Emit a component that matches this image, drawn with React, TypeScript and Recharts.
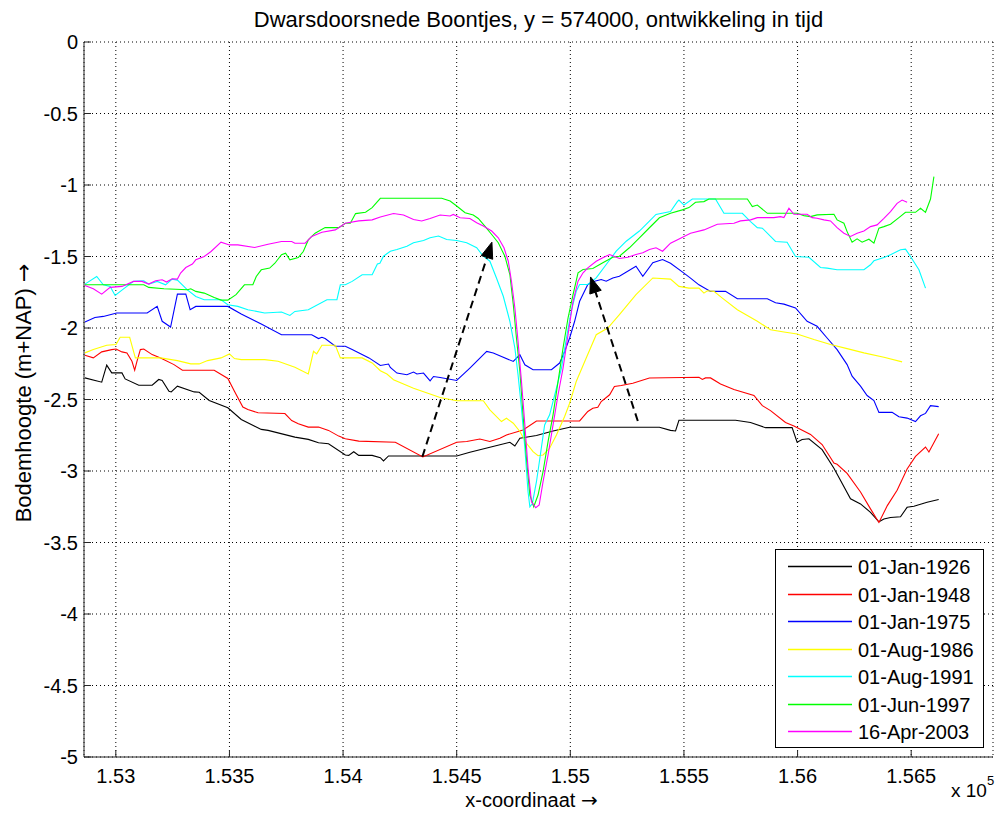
import React from 'react';
import { LineChart, Line, XAxis, YAxis, CartesianGrid, ReferenceLine } from 'recharts';

const FONT = '"Liberation Sans", Arial, Helvetica, sans-serif';
const ARROW_FONT = '"DejaVu Sans", sans-serif';

const X_DOMAIN = [152860, 156860];
const X_TICKS = [153000, 153500, 154000, 154500, 155000, 155500, 156000, 156500];
const Y_DOMAIN = [-5, 0];
const Y_TICKS = [-5, -4.5, -4, -3.5, -3, -2.5, -2, -1.5, -1, -0.5, 0];

const SERIES_NAMES = ['01-Jan-1926', '01-Jan-1948', '01-Jan-1975', '01-Aug-1986', '01-Aug-1991', '01-Jun-1997', '16-Apr-2003'];
const SERIES_COLORS = ['#000000', '#ff0000', '#0000ff', '#ffff00', '#00ffff', '#00ff00', '#ff00ff'];

const JAN1926 = [[152864,-2.349],[152938,-2.379],[152960,-2.26],[152982,-2.314],[153027,-2.314],[153041,-2.356],[153101,-2.4],[153160,-2.4],[153189,-2.36],[153204,-2.367],[153234,-2.442],[153244,-2.447],[153271,-2.407],[153345,-2.447],[153367,-2.449],[153411,-2.507],[153493,-2.558],[153552,-2.64],[153640,-2.709],[153670,-2.716],[153788,-2.763],[153847,-2.779],[153892,-2.802],[153936,-2.809],[154010,-2.888],[154025,-2.891],[154047,-2.865],[154069,-2.891],[154128,-2.891],[154164,-2.907],[154178,-2.93],[154200,-2.895],[154500,-2.895],[154558,-2.869],[154646,-2.834],[154734,-2.799],[154756,-2.825],[154778,-2.771],[154851,-2.752],[154924,-2.72],[154997,-2.694],[155392,-2.694],[155441,-2.716],[155463,-2.72],[155478,-2.645],[155727,-2.645],[155793,-2.661],[155859,-2.697],[155976,-2.697],[155998,-2.799],[156020,-2.78],[156050,-2.775],[156108,-2.851],[156160,-2.981],[156233,-3.194],[156277,-3.23],[156321,-3.289],[156358,-3.355],[156380,-3.336],[156409,-3.325],[156453,-3.32],[156482,-3.254],[156512,-3.246],[156570,-3.218],[156621,-3.199]];

const JAN1948 = [[152864,-2.191],[152901,-2.209],[152938,-2.167],[152982,-2.151],[153001,-2.147],[153027,-2.167],[153049,-2.174],[153071,-2.233],[153083,-2.295],[153093,-2.233],[153108,-2.151],[153123,-2.147],[153160,-2.186],[153197,-2.209],[153256,-2.256],[153293,-2.295],[153433,-2.295],[153493,-2.353],[153522,-2.442],[153559,-2.553],[153581,-2.57],[153626,-2.593],[153744,-2.598],[153774,-2.647],[153803,-2.67],[153847,-2.693],[153892,-2.693],[153936,-2.716],[153981,-2.756],[154010,-2.774],[154069,-2.791],[154230,-2.799],[154351,-2.902],[154500,-2.799],[154544,-2.794],[154602,-2.776],[154646,-2.794],[154690,-2.771],[154719,-2.748],[154792,-2.713],[154851,-2.65],[155041,-2.65],[155077,-2.584],[155099,-2.561],[155121,-2.554],[155136,-2.514],[155173,-2.467],[155194,-2.409],[155224,-2.402],[155275,-2.386],[155348,-2.35],[155566,-2.344],[155581,-2.36],[155595,-2.349],[155617,-2.349],[155661,-2.392],[155720,-2.43],[155808,-2.472],[155845,-2.543],[155881,-2.578],[155947,-2.661],[155984,-2.685],[156057,-2.744],[156108,-2.815],[156160,-2.945],[156174,-2.953],[156218,-3.017],[156277,-3.147],[156321,-3.265],[156358,-3.36],[156395,-3.242],[156438,-3.135],[156482,-2.986],[156519,-2.898],[156563,-2.832],[156578,-2.867],[156621,-2.739]];

const JAN1975 = [[152864,-1.958],[152908,-1.926],[152945,-1.919],[153004,-1.895],[153138,-1.895],[153182,-1.849],[153204,-1.953],[153241,-1.993],[153271,-1.763],[153308,-1.763],[153327,-1.872],[153352,-1.849],[153493,-1.849],[153552,-1.902],[153640,-1.972],[153729,-2.047],[153862,-2.047],[153892,-2.074],[153907,-2.065],[153921,-2.074],[153966,-2.128],[154010,-2.128],[154040,-2.151],[154114,-2.209],[154164,-2.262],[154200,-2.252],[154208,-2.276],[154237,-2.315],[154281,-2.327],[154310,-2.308],[154325,-2.322],[154354,-2.315],[154383,-2.369],[154398,-2.339],[154427,-2.346],[154500,-2.367],[154558,-2.28],[154632,-2.164],[154661,-2.175],[154749,-2.234],[154778,-2.187],[154800,-2.257],[154836,-2.292],[154917,-2.292],[154953,-2.245],[154975,-2.164],[154997,-2.07],[155019,-1.953],[155041,-1.813],[155077,-1.696],[155107,-1.673],[155136,-1.661],[155158,-1.673],[155187,-1.65],[155216,-1.638],[155289,-1.568],[155319,-1.638],[155363,-1.544],[155406,-1.521],[155441,-1.547],[155500,-1.616],[155529,-1.651],[155566,-1.698],[155617,-1.744],[155683,-1.744],[155735,-1.795],[155867,-1.795],[155903,-1.823],[155940,-1.833],[155991,-1.86],[156042,-1.953],[156086,-1.988],[156130,-2.07],[156174,-2.151],[156218,-2.256],[156240,-2.337],[156277,-2.407],[156306,-2.472],[156336,-2.507],[156358,-2.59],[156416,-2.59],[156446,-2.621],[156482,-2.63],[156519,-2.654],[156541,-2.614],[156563,-2.597],[156585,-2.543],[156621,-2.55]];

const AUG1986 = [[152864,-2.174],[152901,-2.151],[152960,-2.121],[153001,-2.116],[153019,-2.065],[153061,-2.065],[153086,-2.209],[153197,-2.209],[153271,-2.228],[153330,-2.251],[153367,-2.251],[153404,-2.228],[153463,-2.209],[153500,-2.181],[153522,-2.214],[153552,-2.221],[153655,-2.221],[153714,-2.233],[153788,-2.274],[153847,-2.321],[153870,-2.163],[153884,-2.181],[153907,-2.121],[153966,-2.121],[153988,-2.209],[154084,-2.209],[154128,-2.244],[154164,-2.299],[154193,-2.322],[154222,-2.362],[154310,-2.421],[154427,-2.486],[154500,-2.509],[154617,-2.509],[154646,-2.572],[154697,-2.654],[154719,-2.631],[154749,-2.666],[154778,-2.724],[154807,-2.806],[154836,-2.864],[154858,-2.893],[154880,-2.888],[154909,-2.841],[154939,-2.748],[154975,-2.619],[154997,-2.526],[155026,-2.374],[155070,-2.21],[155114,-2.047],[155165,-2.0],[155216,-1.907],[155289,-1.766],[155363,-1.65],[155441,-1.658],[155478,-1.709],[155522,-1.721],[155566,-1.721],[155588,-1.756],[155603,-1.74],[155632,-1.744],[155669,-1.791],[155735,-1.872],[155823,-1.953],[155881,-2.012],[155940,-2.028],[155998,-2.042],[156072,-2.081],[156145,-2.116],[156218,-2.144],[156292,-2.174],[156380,-2.205],[156460,-2.237]];

const AUG1991 = [[152864,-1.693],[152916,-1.64],[152945,-1.698],[152975,-1.709],[152997,-1.772],[153034,-1.726],[153078,-1.674],[153123,-1.67],[153145,-1.693],[153182,-1.674],[153219,-1.698],[153248,-1.658],[153271,-1.665],[153315,-1.733],[153352,-1.779],[153389,-1.802],[153463,-1.802],[153493,-1.837],[153537,-1.849],[153581,-1.872],[153655,-1.895],[153729,-1.888],[153766,-1.912],[153788,-1.884],[153847,-1.872],[153929,-1.802],[153973,-1.802],[153988,-1.698],[154010,-1.698],[154040,-1.674],[154084,-1.628],[154128,-1.628],[154151,-1.553],[154162,-1.548],[154178,-1.498],[154208,-1.463],[154237,-1.451],[154281,-1.428],[154310,-1.404],[154354,-1.388],[154383,-1.369],[154420,-1.357],[154456,-1.381],[154500,-1.388],[154544,-1.404],[154588,-1.439],[154617,-1.498],[154646,-1.533],[154675,-1.65],[154705,-1.778],[154734,-1.953],[154756,-2.14],[154770,-2.327],[154785,-2.561],[154800,-2.841],[154814,-3.145],[154822,-3.25],[154833,-3.227],[154851,-3.075],[154866,-2.911],[154887,-2.678],[154909,-2.607],[154939,-2.421],[154961,-2.28],[154983,-2.07],[155004,-1.883],[155026,-1.743],[155041,-1.696],[155077,-1.696],[155114,-1.65],[155158,-1.556],[155202,-1.463],[155246,-1.393],[155304,-1.322],[155348,-1.252],[155377,-1.206],[155441,-1.186],[155471,-1.116],[155478,-1.105],[155500,-1.14],[155537,-1.098],[155639,-1.098],[155676,-1.198],[155757,-1.198],[155793,-1.256],[155823,-1.298],[155845,-1.302],[155881,-1.36],[155903,-1.395],[155954,-1.4],[155991,-1.5],[156050,-1.505],[156101,-1.577],[156130,-1.581],[156174,-1.593],[156292,-1.593],[156321,-1.558],[156336,-1.53],[156380,-1.507],[156409,-1.488],[156453,-1.453],[156475,-1.449],[156497,-1.5],[156534,-1.593],[156563,-1.721]];

const JUN1997 = [[152864,-1.698],[153123,-1.698],[153145,-1.716],[153212,-1.726],[153315,-1.733],[153330,-1.726],[153352,-1.744],[153389,-1.756],[153433,-1.786],[153463,-1.805],[153493,-1.805],[153529,-1.767],[153566,-1.698],[153603,-1.698],[153618,-1.64],[153640,-1.593],[153677,-1.581],[153700,-1.547],[153729,-1.488],[153747,-1.477],[153766,-1.523],[153803,-1.507],[153825,-1.465],[153847,-1.384],[153877,-1.337],[153921,-1.298],[153981,-1.298],[154010,-1.267],[154032,-1.267],[154055,-1.2],[154099,-1.191],[154128,-1.158],[154164,-1.093],[154434,-1.093],[154471,-1.112],[154500,-1.147],[154537,-1.194],[154573,-1.21],[154595,-1.234],[154624,-1.287],[154654,-1.346],[154683,-1.404],[154712,-1.498],[154734,-1.626],[154749,-1.836],[154763,-2.07],[154778,-2.304],[154792,-2.607],[154807,-2.911],[154822,-3.168],[154839,-3.25],[154858,-3.168],[154880,-3.005],[154902,-2.794],[154924,-2.607],[154946,-2.374],[154968,-2.14],[154990,-1.93],[155012,-1.766],[155034,-1.614],[155056,-1.591],[155099,-1.584],[155143,-1.544],[155187,-1.505],[155216,-1.498],[155260,-1.439],[155304,-1.369],[155348,-1.299],[155392,-1.229],[155441,-1.198],[155493,-1.174],[155522,-1.158],[155551,-1.121],[155588,-1.116],[155610,-1.098],[155779,-1.098],[155801,-1.151],[155823,-1.14],[155867,-1.198],[155998,-1.198],[156028,-1.214],[156057,-1.221],[156086,-1.209],[156160,-1.205],[156174,-1.244],[156204,-1.267],[156218,-1.326],[156240,-1.4],[156262,-1.377],[156284,-1.4],[156314,-1.379],[156336,-1.407],[156358,-1.302],[156380,-1.291],[156409,-1.274],[156446,-1.228],[156475,-1.191],[156519,-1.191],[156541,-1.163],[156563,-1.191],[156585,-1.098],[156600,-0.942]];

const APR2003 = [[152864,-1.702],[152901,-1.726],[152938,-1.763],[152975,-1.716],[153027,-1.709],[153078,-1.674],[153115,-1.674],[153145,-1.693],[153175,-1.67],[153204,-1.663],[153223,-1.679],[153248,-1.656],[153271,-1.658],[153285,-1.616],[153308,-1.577],[153337,-1.553],[153352,-1.523],[153389,-1.5],[153419,-1.465],[153463,-1.4],[153500,-1.419],[153537,-1.419],[153611,-1.437],[153670,-1.414],[153729,-1.395],[153774,-1.395],[153788,-1.407],[153833,-1.407],[153862,-1.36],[153907,-1.33],[153966,-1.314],[154010,-1.267],[154069,-1.251],[154128,-1.244],[154164,-1.224],[154222,-1.199],[154266,-1.21],[154310,-1.241],[154346,-1.252],[154383,-1.234],[154427,-1.21],[154471,-1.217],[154485,-1.206],[154515,-1.229],[154558,-1.234],[154588,-1.264],[154617,-1.287],[154654,-1.322],[154683,-1.369],[154708,-1.439],[154727,-1.533],[154741,-1.673],[154756,-1.86],[154770,-2.093],[154785,-2.374],[154800,-2.678],[154814,-2.981],[154829,-3.215],[154848,-3.257],[154863,-3.238],[154880,-3.075],[154902,-2.888],[154924,-2.678],[154946,-2.467],[154968,-2.28],[154990,-2.047],[155012,-1.813],[155034,-1.673],[155056,-1.614],[155077,-1.579],[155114,-1.533],[155143,-1.509],[155173,-1.486],[155216,-1.514],[155253,-1.505],[155289,-1.486],[155319,-1.474],[155348,-1.451],[155377,-1.439],[155406,-1.463],[155441,-1.407],[155485,-1.372],[155529,-1.337],[155588,-1.314],[155647,-1.274],[155720,-1.267],[155749,-1.251],[155793,-1.244],[155823,-1.228],[155896,-1.228],[155925,-1.221],[155940,-1.228],[155962,-1.163],[155984,-1.205],[156042,-1.205],[156064,-1.228],[156086,-1.233],[156116,-1.244],[156145,-1.251],[156174,-1.298],[156204,-1.337],[156233,-1.36],[156262,-1.337],[156292,-1.321],[156321,-1.291],[156350,-1.279],[156380,-1.233],[156409,-1.186],[156438,-1.128],[156460,-1.105],[156482,-1.121]];

const SERIES_VALUES = [JAN1926, JAN1948, JAN1975, AUG1986, AUG1991, JUN1997, APR2003];

// dashed arrows: [tail, head]
const ARROW_LEFT = [[154349, -2.9], [154655, -1.4]];
const ARROW_RIGHT = [[155297, -2.65], [155089, -1.643]];
const ARROWS = [ARROW_LEFT, ARROW_RIGHT];

const toPoints = (arr: number[][]) => arr.map(([x, y]) => ({ x, y }));

const DashedArrow = (props: any) => {
  const { x1, y1, x2, y2 } = props;
  if ([x1, y1, x2, y2].some((v) => typeof v !== 'number' || isNaN(v))) return <g />;
  const dx = x2 - x1;
  const dy = y2 - y1;
  const len = Math.hypot(dx, dy) || 1;
  const ux = dx / len;
  const uy = dy / len;
  const headLen = 16;
  const headW = 6;
  const bx = x2 - ux * headLen;
  const by = y2 - uy * headLen;
  const px = -uy;
  const py = ux;
  const pts = `${x2},${y2} ${bx + px * headW},${by + py * headW} ${bx - px * headW},${by - py * headW}`;
  return (
    <g>
      <line x1={x1} y1={y1} x2={bx} y2={by} stroke="#000" strokeWidth={2} strokeDasharray="8 5" />
      <polygon points={pts} fill="#000" stroke="#000" strokeWidth={1} />
    </g>
  );
};

const fmtX = (v: number) => String(+(v / 1e5).toFixed(3));
const fmtY = (v: number) => String(v);
const AXIS_COLOR = '#262626';
const tickStyle = { fill: '#000', fontSize: 20, fontFamily: FONT };

export default function App() {
  const legendLeft = 775;
  const legendTop = 549;
  const rowH = 27.5;
  return (
    <div style={{ position: 'absolute', left: 0, top: 0, width: 995, height: 820, background: '#fff', fontFamily: FONT }}>
      <LineChart width={995} height={820} margin={{ top: 42, right: 2, bottom: 13, left: 14 }}>
        <CartesianGrid stroke="#000" strokeDasharray="1 3" strokeWidth={1} />
        <XAxis
          dataKey="x"
          type="number"
          domain={X_DOMAIN}
          ticks={X_TICKS}
          allowDataOverflow
          tickFormatter={fmtX}
          height={50}
          tickSize={-7}
          tickMargin={19}
          stroke={AXIS_COLOR}
          tick={tickStyle}
        />
        <XAxis
          xAxisId="top"
          orientation="top"
          type="number"
          domain={X_DOMAIN}
          ticks={X_TICKS}
          allowDataOverflow
          tickFormatter={() => ''}
          height={0}
          tickSize={-7}
          stroke={AXIS_COLOR}
        />
        <YAxis
          type="number"
          domain={Y_DOMAIN}
          ticks={Y_TICKS}
          allowDataOverflow
          tickFormatter={fmtY}
          width={70}
          tickSize={-7}
          tickMargin={13}
          stroke={AXIS_COLOR}
          tick={tickStyle}
        />
        <YAxis
          yAxisId="right"
          orientation="right"
          type="number"
          domain={Y_DOMAIN}
          ticks={Y_TICKS}
          allowDataOverflow
          tickFormatter={() => ''}
          width={0}
          tickSize={-7}
          stroke={AXIS_COLOR}
        />
        {SERIES_VALUES.map((vals, i) => (
          <Line
            key={SERIES_NAMES[i]}
            data={toPoints(vals)}
            dataKey="y"
            name={SERIES_NAMES[i]}
            stroke={SERIES_COLORS[i]}
            strokeWidth={1.1}
            dot={false}
            activeDot={false}
            type="linear"
            isAnimationActive={false}
          />
        ))}
        {ARROWS.map((a, i) => (
          <ReferenceLine
            key={'arrow' + i}
            segment={[{ x: a[0][0], y: a[0][1] }, { x: a[1][0], y: a[1][1] }]}
            shape={DashedArrow}
            ifOverflow="visible"
          />
        ))}
      </LineChart>
      <svg width={995} height={820} style={{ position: 'absolute', left: 0, top: 0, pointerEvents: 'none' }} fontFamily={FONT}>
        <text x={538.5} y={27} textAnchor="middle" fontSize={22} fill="#000">
          Dwarsdoorsnede Boontjes, y = 574000, ontwikkeling in tijd
        </text>
        <text x={531.5} y={807} textAnchor="middle" fontSize={20} fill="#000">
          x-coordinaat <tspan fontFamily={ARROW_FONT}>→</tspan>
        </text>
        <text transform="translate(31,393) rotate(-90)" textAnchor="middle" fontSize={22} fill="#000">
          Bodemhoogte (m+NAP) <tspan fontFamily={ARROW_FONT}>→</tspan>
        </text>
        <text x={951} y={797} fontSize={19} fill="#000">
          x 10<tspan dy={-12} fontSize={13}>5</tspan>
        </text>
        <rect x={legendLeft + 0.5} y={legendTop + 0.5} width={208} height={198} fill="#fff" stroke="#000" strokeWidth={1} />
        {SERIES_NAMES.map((name, i) => {
          const cy = Math.round(legendTop + 17 + i * rowH) + 0.5;
          return (
            <g key={name}>
              <line x1={legendLeft + 13} x2={legendLeft + 77} y1={cy} y2={cy} stroke={SERIES_COLORS[i]} strokeWidth={1.5} />
              <text x={legendLeft + 83} y={cy + 7} fontSize={20} fill="#000">
                {name}
              </text>
            </g>
          );
        })}
      </svg>
    </div>
  );
}
